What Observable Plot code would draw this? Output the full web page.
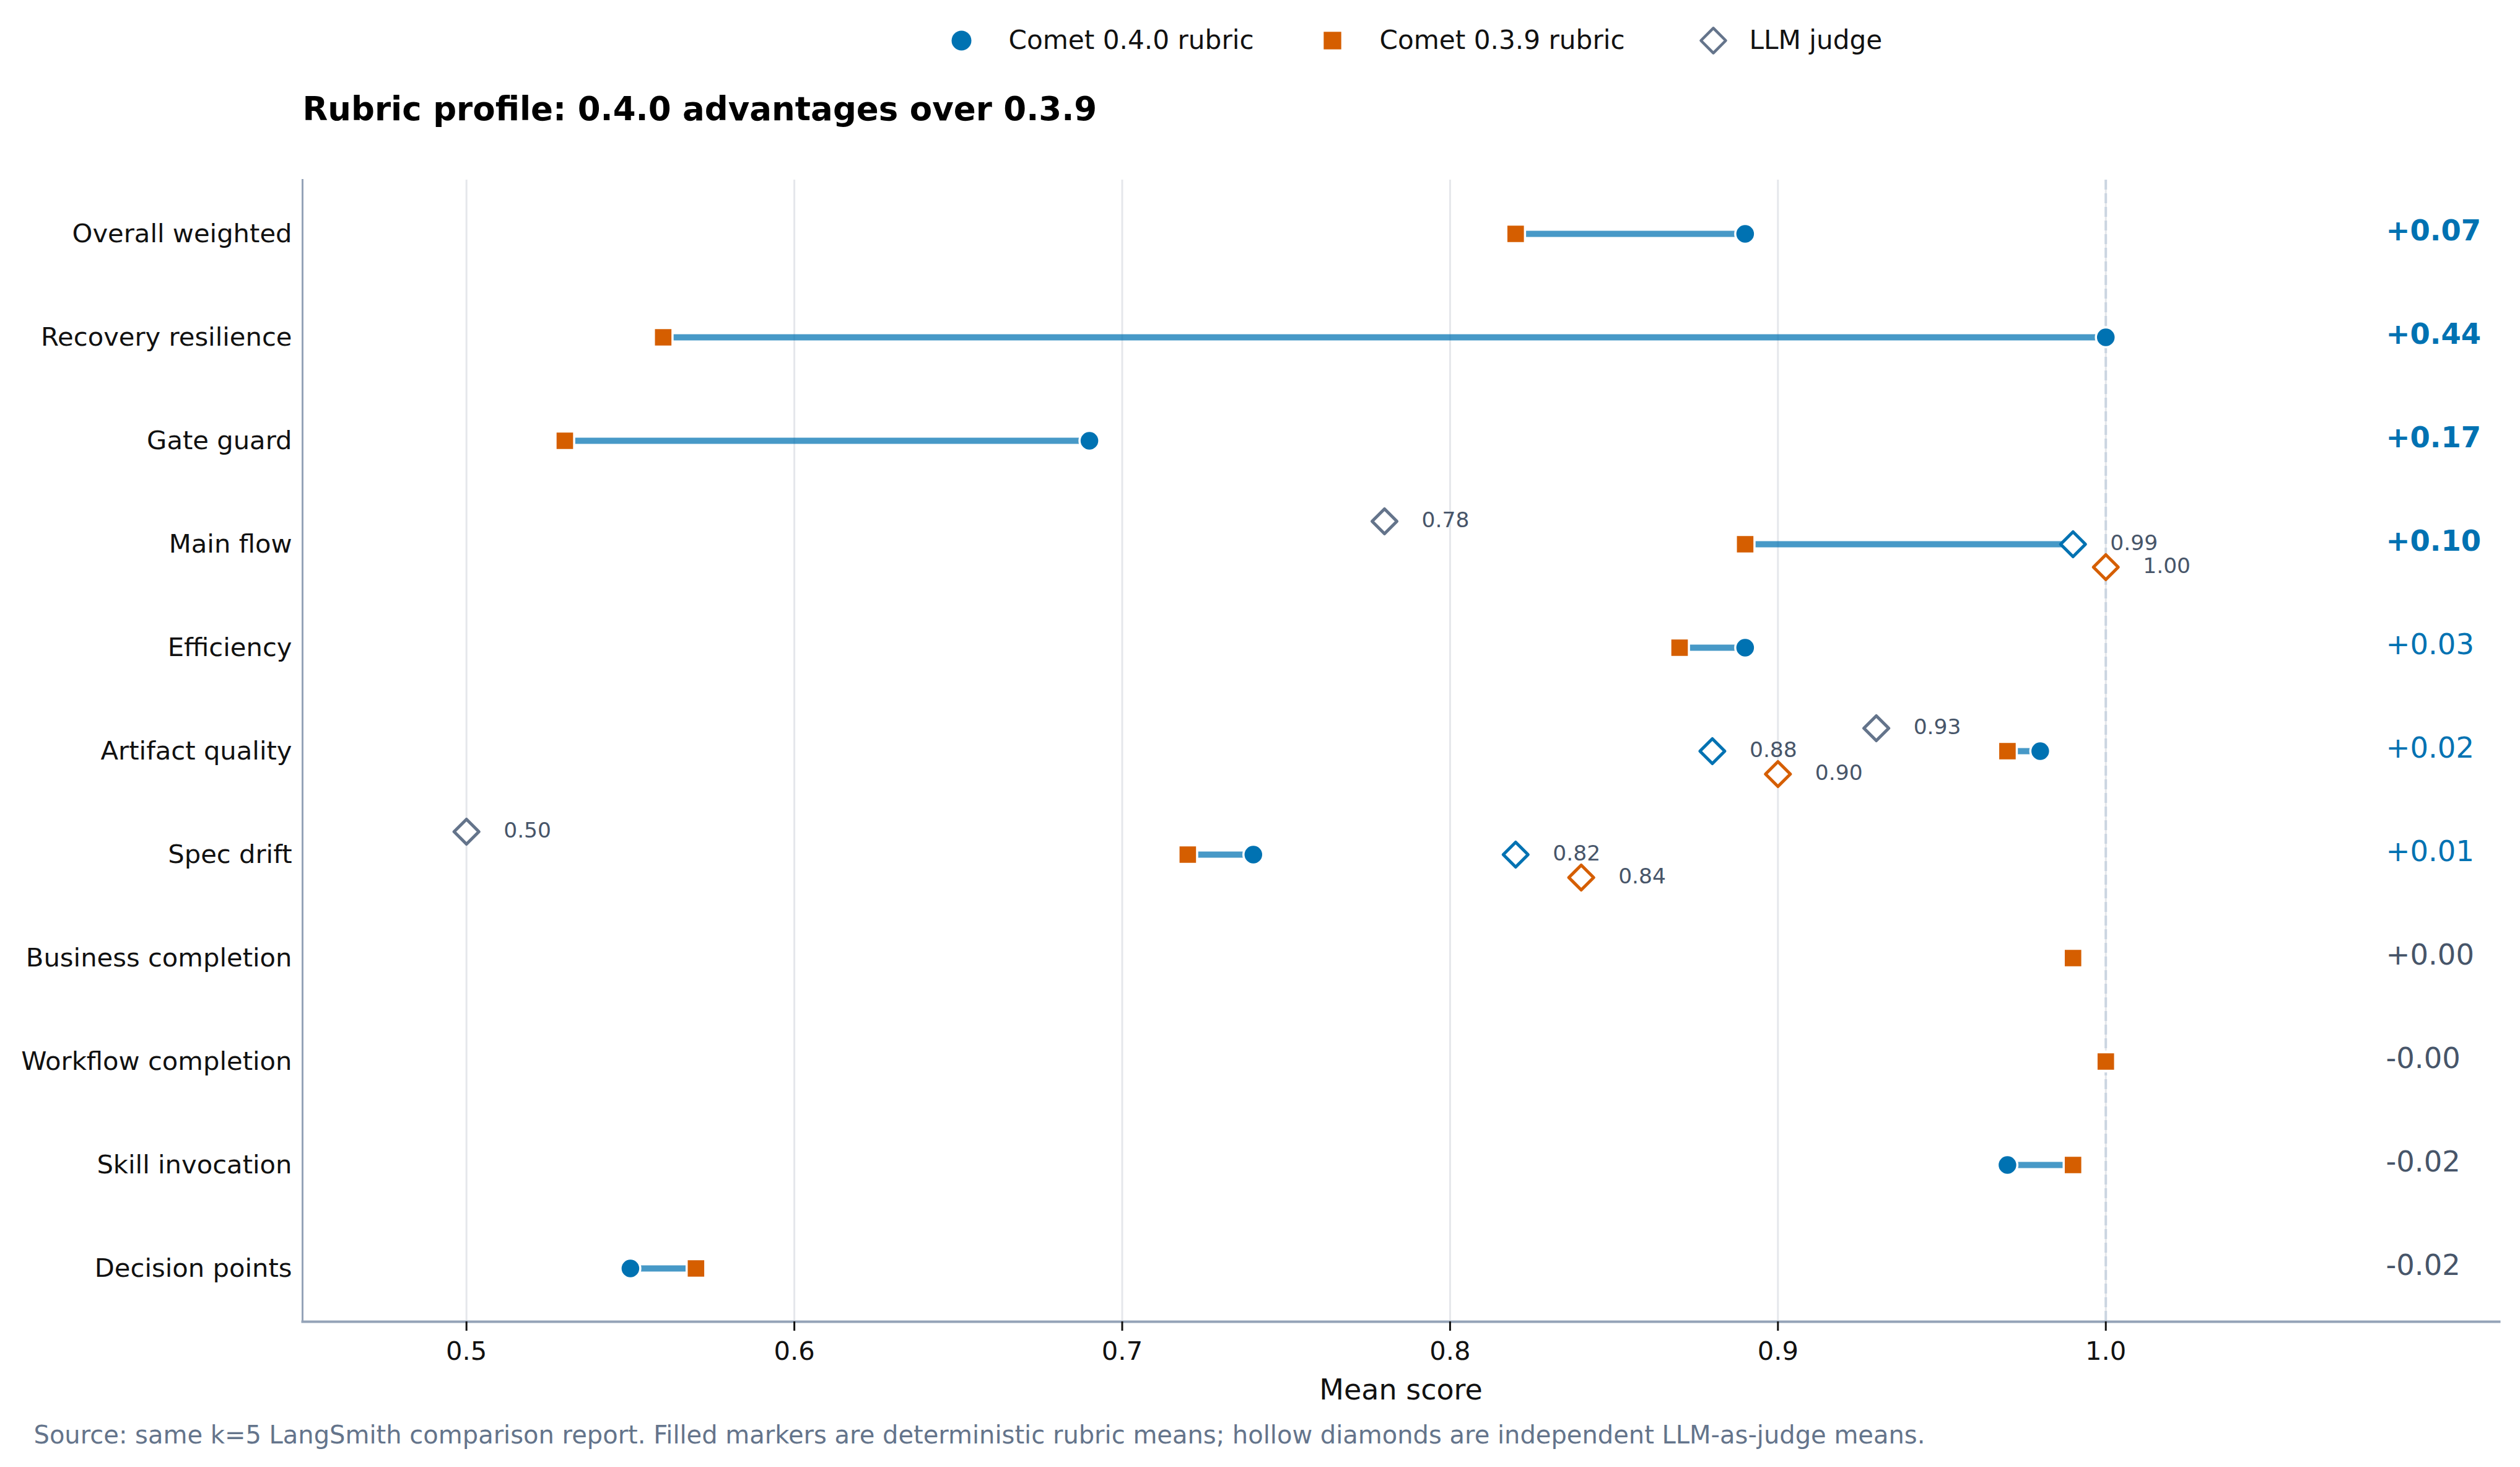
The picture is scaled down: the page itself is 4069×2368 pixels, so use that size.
<!DOCTYPE html>
<html>
<head>
<meta charset="utf-8">
<script src="https://cdn.jsdelivr.net/npm/d3@7"></script>
<script src="https://cdn.jsdelivr.net/npm/@observablehq/plot@0.6"></script>
<style>
  html, body { margin: 0; padding: 0; background: #fff; }
</style>
</head>
<body>
<div id="chart"></div>
<script>
// Rubric dimensions, top to bottom
const categories = [
  "Overall weighted", "Recovery resilience", "Gate guard", "Main flow",
  "Efficiency", "Artifact quality", "Spec drift", "Business completion",
  "Workflow completion", "Skill invocation", "Decision points"
];
// Deterministic rubric means per version
const rubric040 = [0.89, 1.00, 0.69, 0.99, 0.89, 0.98, 0.74, 0.99, 1.00, 0.97, 0.55];
const rubric039 = [0.82, 0.56, 0.53, 0.89, 0.87, 0.97, 0.72, 0.99, 1.00, 0.99, 0.57];
// Reported 0.4.0 − 0.3.9 difference (from unrounded means)
const deltaLabels = ["+0.07", "+0.44", "+0.17", "+0.10", "+0.03", "+0.02", "+0.01", "+0.00", "-0.00", "-0.02", "-0.02"];

// LLM-as-judge means (only for dimensions that have a judge)
const judgeCategories = ["Main flow", "Artifact quality", "Spec drift"];
const judge040 = [0.99, 0.88, 0.82];
const judge039 = [1.00, 0.90, 0.84];
const judgeOther = [0.78, 0.93, 0.50];

const xTicks = [0.5, 0.6, 0.7, 0.8, 0.9, 1.0];
const legendLabels = ["Comet 0.4.0 rubric", "Comet 0.3.9 rubric", "LLM judge"];
const titleText = "Rubric profile: 0.4.0 advantages over 0.3.9";
const xLabel = "Mean score";
const captionText = "Source: same k=5 LangSmith comparison report. Filled markers are deterministic rubric means; hollow diamonds are independent LLM-as-judge means.";

const BLUE = "#0072B2";
const ORANGE = "#D55E00";
const SLATE = "#64748B";
const INK = "#475569";

const W = 4069, H = 2368;
const M = { top: 290, right: 34, bottom: 235, left: 488 };

const rows = categories.map((category, i) => ({
  category,
  v40: rubric040[i],
  v39: rubric039[i],
  label: deltaLabels[i],
  delta: parseFloat(deltaLabels[i])
}));
const deltaColor = d => (d > 0 ? BLUE : INK);

// Judge markers stacked within a category: other above, 0.4.0 centred, 0.3.9 below
const judgeGroups = [
  { values: judgeOther, stroke: SLATE, dy: -37 },
  { values: judge040, stroke: BLUE, dy: 0 },
  { values: judge039, stroke: ORANGE, dy: 37 }
];

// Square-rotated diamond (equal width and height)
const diamond = {
  draw(context, size) {
    const h = Math.sqrt(size / 2);
    context.moveTo(0, -h);
    context.lineTo(h, 0);
    context.lineTo(0, h);
    context.lineTo(-h, 0);
    context.closePath();
  }
};

const judgeMarks = judgeGroups.flatMap(g => {
  const data = judgeCategories.map((category, i) => ({ category, value: g.values[i] }));
  return [
    Plot.dot(data, {
      x: "value", y: "category", dy: g.dy, r: 16, symbol: diamond,
      fill: "white", stroke: g.stroke, strokeWidth: 5, strokeLinejoin: "round"
    }),
    Plot.text(data, {
      x: "value", y: "category", dy: g.dy - 2, dx: 60, text: d => d.value.toFixed(2),
      textAnchor: "start", lineAnchor: "middle", fontSize: 34.5, fill: INK
    })
  ];
});

const legendY = 65 - M.top;
const legendMarks = [
  Plot.dot([0], { frameAnchor: "top-left", dx: 1552 - M.left, dy: legendY, r: 16, fill: BLUE }),
  Plot.dot([0], { frameAnchor: "top-left", dx: 2151 - M.left, dy: legendY, r: 16, symbol: "square", fill: ORANGE }),
  Plot.dot([0], { frameAnchor: "top-left", dx: 2766 - M.left, dy: legendY, r: 16, symbol: diamond,
    fill: "white", stroke: SLATE, strokeWidth: 4.5, strokeLinejoin: "round" }),
  ...legendLabels.map((label, i) => Plot.text([label], {
    frameAnchor: "top-left", dx: [1628, 2227, 2824][i] - M.left, dy: legendY,
    text: d => d, textAnchor: "start", lineAnchor: "middle", fontSize: 42.2, fill: "#111"
  }))
];

const chart = Plot.plot({
  width: W,
  height: H,
  marginTop: M.top,
  marginRight: M.right,
  marginBottom: M.bottom,
  marginLeft: M.left,
  style: { fontFamily: "DejaVu Sans", fontSize: "41.7px", color: "#111", background: "white" },
  x: { domain: [0.45, 1.12] },
  y: { type: "point", domain: categories, padding: 0.5 },
  color: { type: "identity" },
  marks: [
    Plot.ruleX(xTicks, { stroke: "#E5E7EB", strokeWidth: 3 }),
    Plot.ruleX([1.0], { stroke: "#CBD5E1", strokeWidth: 4, strokeDasharray: "16,6" }),
    Plot.frame({ anchor: "left", stroke: "#94A3B8", strokeWidth: 3 }),
    Plot.frame({ anchor: "bottom", stroke: "#94A3B8", strokeWidth: 4 }),
    Plot.axisX({
      ticks: xTicks, tickFormat: d => d.toFixed(1), tickSize: 15, tickPadding: 17,
      fontSize: 41.7, strokeWidth: 3, label: null
    }),
    Plot.axisY({ tickSize: 0, tickPadding: 17, fontSize: 41.7, label: null }),

    // connector between the two rubric versions
    Plot.link(rows, {
      x1: "v39", x2: "v40", y1: "category", y2: "category",
      stroke: BLUE, strokeOpacity: 0.72, strokeWidth: 10
    }),
    Plot.dot(rows, { x: "v40", y: "category", r: 16, fill: BLUE, stroke: "white", strokeWidth: 3.5 }),
    Plot.dot(rows, { x: "v39", y: "category", r: 17, symbol: "square", fill: ORANGE, stroke: "white", strokeWidth: 3.5 }),

    ...judgeMarks,

    // delta column at the right edge
    Plot.text(rows.filter(d => Math.abs(d.delta) >= 0.05), {
      y: "category", frameAnchor: "right", dx: -183, dy: -4, text: "label",
      textAnchor: "start", lineAnchor: "middle", fontSize: 46.5, fontWeight: "bold",
      fill: d => deltaColor(d.delta)
    }),
    Plot.text(rows.filter(d => Math.abs(d.delta) < 0.05), {
      y: "category", frameAnchor: "right", dx: -183, dy: -4, text: "label",
      textAnchor: "start", lineAnchor: "middle", fontSize: 46.5,
      fill: d => deltaColor(d.delta)
    }),

    // title, legend, axis label, source note
    Plot.text([titleText], {
      frameAnchor: "top-left", dx: 0, dy: 177 - M.top, text: d => d,
      textAnchor: "start", lineAnchor: "middle", fontSize: 53, fontWeight: "bold", fill: "#000"
    }),
    ...legendMarks,
    Plot.text([xLabel], {
      frameAnchor: "bottom", dy: 2244 - (H - M.bottom), text: d => d,
      lineAnchor: "middle", fontSize: 46, fill: "#111"
    }),
    Plot.text([captionText], {
      frameAnchor: "bottom-left", dx: 54 - M.left, dy: 2317 - (H - M.bottom), text: d => d,
      textAnchor: "start", lineAnchor: "middle", fontSize: 40, fill: SLATE
    })
  ]
});

document.getElementById("chart").appendChild(chart);
</script>
</body>
</html>
